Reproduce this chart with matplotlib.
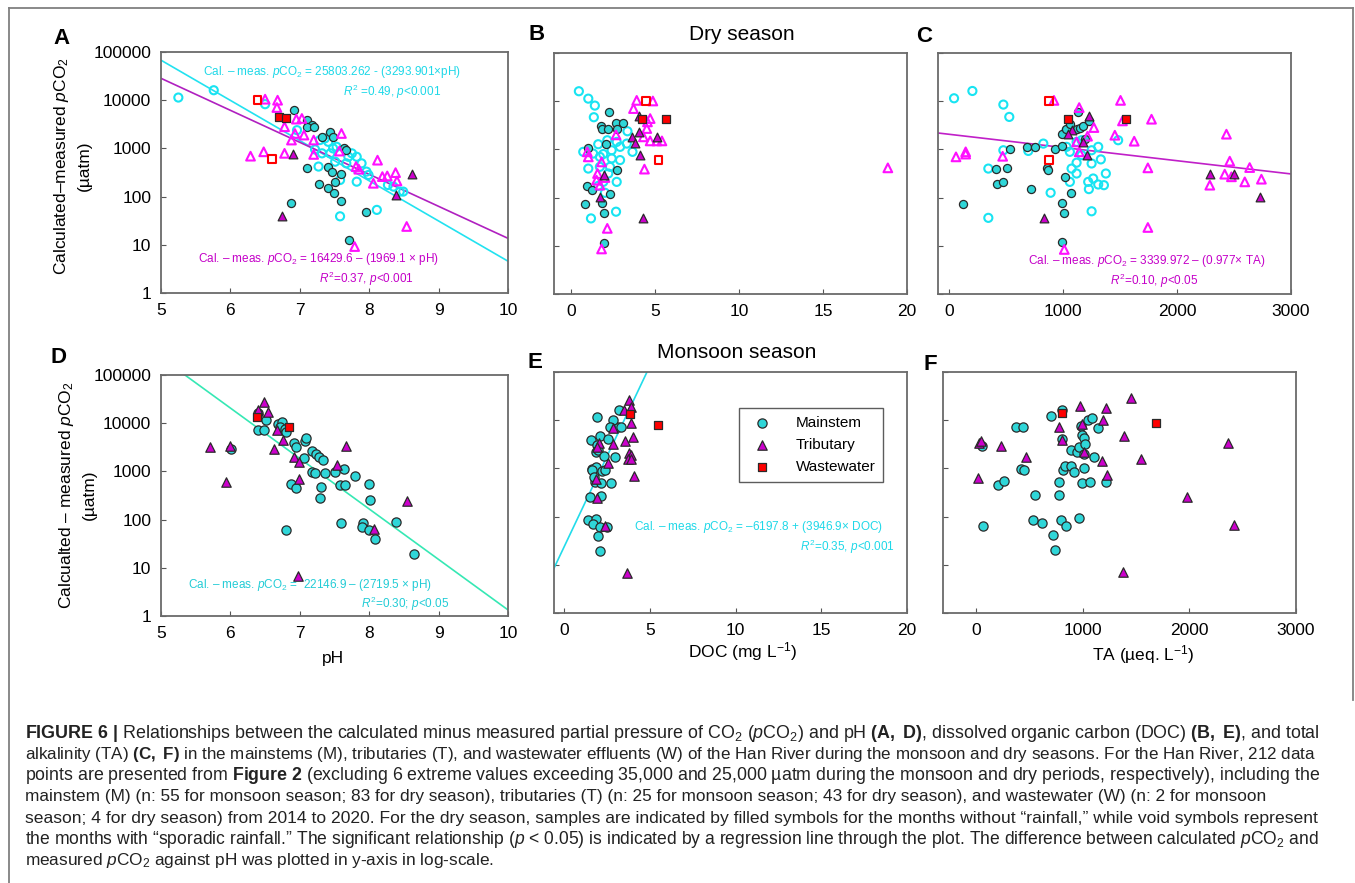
import matplotlib
matplotlib.use('Agg')
import matplotlib.pyplot as plt
import numpy as np
from matplotlib.lines import Line2D
from matplotlib.ticker import NullLocator

plt.rcParams['font.family'] = 'Liberation Sans'
plt.rcParams['mathtext.fontset'] = 'custom'
plt.rcParams['mathtext.rm'] = 'Liberation Sans'
plt.rcParams['mathtext.it'] = 'Liberation Sans:italic'
plt.rcParams['mathtext.bf'] = 'Liberation Sans:bold'

# ---------------- data (x, calculated - measured pCO2 in uatm) ----------------
# Dry season, pH (panel A)
a_main_open = [(5.25, 11350), (5.76, 16100), (6.50, 8260), (6.96, 2390), (7.22, 950), (7.29, 1490),
               (7.36, 1610), (7.41, 1370), (7.48, 1000), (7.53, 1080), (7.32, 790), (7.44, 790),
               (7.51, 530), (7.27, 420), (7.70, 670), (7.75, 790), (7.82, 670), (7.67, 490),
               (7.89, 490), (7.96, 330), (7.99, 281), (7.82, 204), (7.58, 221), (8.35, 161),
               (8.44, 127), (8.27, 174), (8.49, 127), (8.11, 53), (7.58, 39)]
a_main_fill = [(6.91, 6210), (7.10, 3860), (7.17, 3040), (7.10, 2810), (7.20, 2810), (7.44, 2210),
               (7.48, 1740), (7.32, 1740), (7.63, 1000), (7.67, 925), (7.41, 420), (7.10, 385),
               (7.46, 330), (7.60, 294), (7.51, 204), (7.27, 180), (7.41, 153), (7.50, 121),
               (7.60, 81), (6.87, 75), (7.95, 49), (7.71, 12.7)]
a_trib_open = [(6.29, 690), (6.48, 850), (6.50, 10500), (6.68, 10000), (6.67, 7050), (6.78, 2810),
               (6.78, 790), (6.88, 1490), (6.93, 2040), (6.95, 4050), (7.03, 4180), (7.06, 1890),
               (7.20, 1490), (7.20, 750), (7.60, 2040), (7.57, 880), (7.81, 420), (7.85, 370),
               (8.12, 570), (8.06, 189), (8.19, 260), (8.26, 268), (8.38, 314), (8.40, 211),
               (8.54, 24), (7.79, 9.2)]
a_trib_fill = [(6.90, 760), (6.75, 39), (8.38, 108), (8.62, 294)]
a_waste_open = [(6.39, 10200), (6.60, 610)]
a_waste_fill = [(6.70, 4380), (6.80, 4300)]

# Dry season, DOC (panel B)
b_main_open = [(0.48, 16100), (1.04, 11300), (1.43, 8110), (1.37, 4650), (3.37, 2380), (1.63, 1280),
               (2.17, 1550), (2.73, 1430), (3.33, 1320), (0.74, 890), (1.33, 820), (1.93, 800),
               (2.43, 960), (2.93, 1130), (3.67, 890), (2.43, 650), (2.93, 600), (1.04, 400),
               (1.73, 435), (2.23, 316), (2.73, 212), (1.93, 212), (1.63, 175), (2.03, 126),
               (2.69, 51), (1.20, 37), (1.73, 700), (2.33, 435)]
b_main_fill = [(2.29, 5900), (1.79, 3030), (1.83, 2710), (2.23, 2710), (2.67, 3600), (3.09, 3600),
               (2.73, 2710), (1.04, 1080), (2.77, 365), (0.94, 175), (1.29, 147), (2.33, 118),
               (0.84, 73), (1.83, 78), (1.99, 47), (1.97, 11.7), (2.09, 1320)]
b_trib_open = [(3.92, 10400), (4.88, 10100), (3.73, 7030), (4.72, 4360), (4.56, 3720), (4.52, 2710),
               (2.69, 2000), (4.32, 1820), (4.72, 1500), (5.12, 1500), (5.42, 1500), (0.98, 890),
               (1.04, 700), (1.83, 550), (4.38, 390), (1.59, 316), (2.03, 261), (1.53, 230),
               (1.73, 181), (2.17, 23), (1.83, 8.6), (18.86, 414)]
b_trib_fill = [(4.08, 4880), (3.65, 1820), (3.82, 1390), (4.08, 2310), (5.12, 1820), (4.12, 760),
               (1.73, 104), (4.28, 37), (1.97, 292)]
b_waste_open = [(4.46, 10100), (5.22, 600)]
b_waste_fill = [(4.24, 4230), (5.66, 4230)]

# Dry season, TA (panel C)
c_main_open = [(41, 11500), (202, 16300), (474, 8510), (526, 4720), (825, 1320), (693, 930), (474, 960),
               (342, 400), (889, 126), (342, 38), (1029, 2500), (1029, 1130), (1058, 890), (1117, 1430),
               (1161, 1550), (1073, 400), (1058, 212), (1117, 316), (1117, 530), (1249, 960), (1307, 1130),
               (1249, 510), (1330, 620), (1374, 316), (1263, 249), (1219, 212), (1307, 187), (1357, 181),
               (1225, 150), (1249, 52), (1482, 1550), (1161, 760)]
c_main_fill = [(123, 73), (406, 390), (503, 420), (532, 1040), (415, 196), (474, 212), (678, 1130),
               (751, 1130), (713, 150), (854, 420), (863, 371), (927, 1040), (985, 1170), (985, 2130),
               (1020, 2620), (1058, 3430), (1117, 2710), (1146, 2790), (1132, 5990), (1170, 3030),
               (1225, 3840), (1018, 270), (1067, 122), (985, 79), (1006, 48), (991, 12.1), (1190, 1680)]
c_trib_open = [(58, 700), (143, 800), (143, 890), (468, 720), (918, 10400), (1140, 7370), (1269, 2840),
               (1117, 1430), (1140, 890), (1213, 1880), (1453, 1970), (1503, 10400), (1520, 3900),
               (1623, 1480), (1775, 4230), (1743, 414), (1743, 24), (1009, 8.4), (2433, 2070), (2462, 570),
               (2418, 306), (2477, 270), (2637, 420), (2594, 212), (2740, 241), (2287, 181)]
c_trib_fill = [(1222, 4960), (1073, 2500), (1038, 2070), (1175, 1430), (1205, 760), (830, 37),
               (2287, 306), (2500, 306), (2731, 104)]
c_waste_open = [(877, 10100), (877, 600)]
c_waste_fill = [(1041, 4230), (1550, 4230)]

# Monsoon season, pH (panel D)
d_main = [(6.40, 16000), (6.52, 11600), (6.40, 7200), (6.48, 7200), (6.69, 9440), (6.75, 10700),
          (6.72, 8450), (6.79, 7440), (6.80, 6650), (6.91, 3930), (6.95, 3140), (7.08, 4260), (7.09, 4830),
          (7.06, 1860), (7.17, 2640), (7.24, 2250), (7.27, 2010), (7.33, 1710), (7.17, 950), (7.22, 910),
          (7.36, 910), (7.51, 950), (7.63, 1100), (7.79, 810), (8.00, 540), (7.58, 520), (7.65, 520),
          (7.30, 480), (6.88, 540), (6.95, 456), (7.29, 283), (8.01, 253), (7.59, 86), (7.91, 86),
          (7.89, 71), (8.00, 62), (8.08, 40), (8.39, 90), (6.80, 62), (8.65, 19.7), (6.01, 2900)]
d_trib = [(5.71, 3250), (5.93, 610), (5.99, 3400), (6.40, 18700), (6.49, 27900), (6.54, 17300),
          (6.63, 2900), (6.67, 7200), (6.76, 4460), (6.91, 2010), (6.99, 1580), (6.99, 710), (7.67, 3350),
          (7.53, 1350), (8.07, 65), (8.55, 245), (6.98, 6.7)]
d_waste = [(6.39, 13600), (6.85, 8450)]

# Monsoon season, DOC (panel E)
e_main = [(1.90, 11400), (1.55, 3860), (2.08, 4670), (2.56, 4170), (3.11, 7280), (2.82, 10300),
          (2.68, 7280), (3.30, 7280), (3.20, 16100), (2.97, 1690), (1.90, 3040), (1.84, 2210), (1.98, 2390),
          (2.29, 1830), (1.59, 950), (1.84, 1050), (1.61, 925), (2.19, 895), (2.37, 925), (1.79, 530),
          (2.14, 490), (2.72, 505), (1.51, 260), (2.14, 272), (1.36, 85), (1.84, 88), (1.65, 70),
          (2.08, 62), (2.49, 62), (1.94, 40), (2.08, 19.8), (1.71, 670)]
e_trib = [(3.79, 26800), (3.88, 18900), (3.46, 16600), (2.87, 6940), (2.87, 3140), (2.00, 3290),
          (1.90, 2720), (2.58, 1310), (1.84, 610), (1.90, 247), (2.39, 64), (3.55, 3730), (4.02, 4520),
          (3.88, 8810), (3.79, 2040), (3.88, 1890), (3.73, 1540), (3.88, 1540), (4.08, 705), (3.65, 6.7)]
e_waste = [(3.83, 13300), (5.44, 8130)]

# Monsoon season, TA (panel F)
f_main = [(60, 2960), (66, 63), (202, 460), (262, 560), (376, 7340), (439, 7340), (420, 970), (446, 940),
          (550, 285), (531, 86), (619, 72), (705, 12000), (720, 41), (736, 20), (777, 510), (777, 285),
          (799, 86), (840, 65), (809, 16300), (809, 4070), (818, 940), (831, 1140), (894, 2410), (888, 1140),
          (919, 830), (951, 2150), (961, 92), (967, 2740), (983, 7460), (992, 4930), (1008, 4270),
          (1024, 3210), (1014, 1000), (989, 500), (1008, 1990), (1046, 10100), (1087, 10900),
          (1103, 1750), (1071, 530), (1141, 6780), (1220, 530)]
f_trib = [(25, 3370), (51, 3650), (22, 630), (237, 2870), (468, 1700), (774, 7110), (809, 3880),
          (976, 20000), (998, 8340), (1014, 2150), (1188, 10100), (1182, 1400), (1220, 17900), (1229, 740),
          (1384, 4700), (1450, 28500), (1551, 1590), (1978, 259), (2360, 3370), (2420, 67), (1378, 7.0)]
f_waste = [(809, 13900), (1684, 8610)]

# regression lines: log10(y) = a + b * x
fit_a_cyan = (9.00, -0.834)
fit_a_mag = (7.774, -0.664)
fit_c_mag = (3.313, -0.000274)
fit_d = (10.596, -1.047)
fit_e = (1.38, 0.75)

decades = [1, 10, 100, 1000, 10000, 100000]
decade_labels = ['1', '10', '100', '1000', '10000', '100000']

CYAN_OPEN = '#18e4f2'
CYAN_FILL = '#2fd6d8'
MAG_OPEN = '#ff10ff'
MAG_FILL = '#cc00cc'
RED = '#ff0000'
EDGE = '#2a2a2a'

W, H = 1355, 883
fig = plt.figure(figsize=(W / 100, H / 100), dpi=100)


def px_axes(l, t, r, b):
    return fig.add_axes([l / W, 1 - b / H, (r - l) / W, (b - t) / H])


def ftext(x, y, s, **kw):
    kw.setdefault('ha', 'center')
    kw.setdefault('va', 'center')
    return fig.text(x / W, 1 - y / H, s, **kw)


def style(ax, xlim, xticks, ylabels=False):
    ax.set_yscale('log')
    ax.set_ylim(1, 1e5)
    ax.set_xlim(*xlim)
    ax.set_xticks(xticks)
    ax.set_xticklabels([str(t) for t in xticks])
    ax.set_yticks(decades)
    ax.yaxis.set_minor_locator(NullLocator())
    ax.set_yticklabels(decade_labels if ylabels else [])
    ax.tick_params(direction='in', length=3.5, width=0.8, color='#555', labelsize=12.5, pad=7)
    for s in ax.spines.values():
        s.set_color('#6a6a6a')
        s.set_linewidth(1.3)


def pts(ax, data, marker, color, filled, size=34):
    x = [p[0] for p in data]
    y = [p[1] for p in data]
    if marker == '^':
        size = size * 1.15
    if filled:
        ax.scatter(x, y, s=size, marker=marker, facecolors=color, edgecolors=EDGE,
                   linewidths=0.9, zorder=3)
    else:
        ax.scatter(x, y, s=size, marker=marker, facecolors='none', edgecolors=color,
                   linewidths=1.5, zorder=3)


def fit(ax, coef, color, xlim):
    x = np.linspace(xlim[0], xlim[1], 50)
    ax.plot(x, 10 ** (coef[0] + coef[1] * x), color=color, lw=1.2, zorder=2)


def dry_panel(ax, m_o, m_f, t_o, t_f, w_o, w_f):
    pts(ax, m_o, 'o', CYAN_OPEN, False)
    pts(ax, m_f, 'o', CYAN_FILL, True)
    pts(ax, t_o, '^', MAG_OPEN, False)
    pts(ax, t_f, '^', MAG_FILL, True)
    pts(ax, w_o, 's', RED, False, 30)
    pts(ax, w_f, 's', RED, True, 30)


def wet_panel(ax, m, t, w):
    pts(ax, m, 'o', CYAN_FILL, True, 44)
    pts(ax, t, '^', MAG_FILL, True, 40)
    pts(ax, w, 's', RED, True, 36)


# ---------------- panels ----------------
xl_ph = (5, 10)
xl_doc_b = (-1, 20)
xl_ta_c = (-100, 3000)
xl_doc_e = (-0.6, 20)
xl_ta_f = (-310, 3000)

axA = px_axes(161, 52, 508, 293)
style(axA, xl_ph, [5, 6, 7, 8, 9, 10], ylabels=True)
fit(axA, fit_a_cyan, '#22e2f0', xl_ph)
fit(axA, fit_a_mag, '#b020c0', xl_ph)
dry_panel(axA, a_main_open, a_main_fill, a_trib_open, a_trib_fill, a_waste_open, a_waste_fill)

axB = px_axes(554, 53, 907, 294)
style(axB, xl_doc_b, [0, 5, 10, 15, 20])
dry_panel(axB, b_main_open, b_main_fill, b_trib_open, b_trib_fill, b_waste_open, b_waste_fill)

axC = px_axes(938, 53, 1291, 294)
style(axC, xl_ta_c, [0, 1000, 2000, 3000])
fit(axC, fit_c_mag, '#c020c8', xl_ta_c)
dry_panel(axC, c_main_open, c_main_fill, c_trib_open, c_trib_fill, c_waste_open, c_waste_fill)

axD = px_axes(161, 375, 508, 616)
style(axD, xl_ph, [5, 6, 7, 8, 9, 10], ylabels=True)
fit(axD, fit_d, '#36e8b4', xl_ph)
wet_panel(axD, d_main, d_trib, d_waste)

axE = px_axes(554, 372, 907, 613)
style(axE, xl_doc_e, [0, 5, 10, 15, 20])
fit(axE, fit_e, '#22dcea', xl_doc_e)
wet_panel(axE, e_main, e_trib, e_waste)

axF = px_axes(943, 372, 1296, 613)
style(axF, xl_ta_f, [0, 1000, 2000, 3000])
wet_panel(axF, f_main, f_trib, f_waste)

# legend in E
hm = axE.scatter([], [], s=44, marker='o', facecolors=CYAN_FILL, edgecolors=EDGE, linewidths=0.9)
ht = axE.scatter([], [], s=46, marker='^', facecolors=MAG_FILL, edgecolors=EDGE, linewidths=0.9)
hw = axE.scatter([], [], s=36, marker='s', facecolors=RED, edgecolors=EDGE, linewidths=0.9)
leg = axE.legend([hm, ht, hw], ['Mainstem', 'Tributary', 'Wastewater'], loc='upper left',
                 bbox_to_anchor=(0.524, 0.851), fontsize=11, frameon=True, fancybox=False,
                 handletextpad=1.2, labelspacing=0.55, borderpad=0.5, borderaxespad=0)
leg.get_frame().set_edgecolor('#333333')
leg.get_frame().set_linewidth(1.0)

# panel letters and titles
for lab, x, y in [('A', 62, 39), ('B', 537, 35), ('C', 924, 37),
                  ('D', 58, 358), ('E', 535, 362), ('F', 930, 364)]:
    ftext(x, y, lab, fontsize=16, fontweight='bold')
ftext(742, 35, 'Dry season', fontsize=15)
ftext(737, 352, 'Monsoon season', fontsize=15)

# axis labels
ftext(72, 166, 'Calculated–measured $\\mathit{p}$CO$_2$\n(µatm)', fontsize=12.5,
      rotation=90, linespacing=1.5)
ftext(77, 495, 'Calcualted – measured $\\mathit{p}$CO$_2$\n(µatm)', fontsize=12.5,
      rotation=90, linespacing=1.5)
ftext(333, 658, 'pH', fontsize=12.5)
ftext(743, 652, 'DOC (mg L$^{-1}$)', fontsize=12.5)
ftext(1143, 655, 'TA (µeq. L$^{-1}$)', fontsize=12.5)

# regression equations
TC = '#1ed8e8'
TM = '#c400c8'
ftext(332, 72, 'Cal. – meas. $\\mathit{p}$CO$_2$ = 25803.262 - (3293.901×pH)', fontsize=8.5, color=TC)
ftext(392, 92, '$\\mathit{R}^2$ =0.49, $\\mathit{p}$<0.001', fontsize=8.5, color=TC)
ftext(318, 259, 'Cal. – meas. $\\mathit{p}$CO$_2$ = 16429.6 – (1969.1 × pH)', fontsize=8.5, color=TM)
ftext(366, 279, '$\\mathit{R}^2$=0.37, $\\mathit{p}$<0.001', fontsize=8.5, color=TM)
ftext(1147, 261, 'Cal. – meas. $\\mathit{p}$CO$_2$ = 3339.972 – (0.977× TA)', fontsize=8.5, color=TM)
ftext(1154, 281, '$\\mathit{R}^2$=0.10, $\\mathit{p}$<0.05', fontsize=8.5, color=TM)
ftext(310, 585, 'Cal. – meas. $\\mathit{p}$CO$_2$ =  22146.9 – (2719.5 × pH)', fontsize=8.5, color='#22ccd6')
ftext(405, 604, '$\\mathit{R}^2$=0.30; $\\mathit{p}$<0.05', fontsize=8.5, color='#22ccd6')
ftext(758, 527, 'Cal. – meas. $\\mathit{p}$CO$_2$ = –6197.8 + (3946.9× DOC)', fontsize=8.5, color=TC)
ftext(847, 547, '$\\mathit{R}^2$=0.35, $\\mathit{p}$<0.001', fontsize=8.5, color=TC)

# outer frame of the figure area
fc = '#808080'
fig.add_artist(Line2D([9 / W, 1353 / W], [1 - 8 / H, 1 - 8 / H], transform=fig.transFigure, color=fc, lw=1.3))
fig.add_artist(Line2D([9 / W, 9 / W], [0, 1 - 8 / H], transform=fig.transFigure, color=fc, lw=1.3))
fig.add_artist(Line2D([1353 / W, 1353 / W], [1 - 700 / H, 1 - 8 / H], transform=fig.transFigure, color=fc, lw=1.3))

# caption (justified lines fitted to the text block width, others left ragged)
caption = [
    r"$\mathbf{FIGURE\ 6\ |}$ Relationships between the calculated minus measured partial pressure of CO$_2$ ($\mathit{p}$CO$_2$) and pH $\mathbf{(A,}$ $\mathbf{D)}$, dissolved organic carbon (DOC) $\mathbf{(B,}$ $\mathbf{E)}$, and total",
    r"alkalinity (TA) $\mathbf{(C,}$ $\mathbf{F)}$ in the mainstems (M), tributaries (T), and wastewater effluents (W) of the Han River during the monsoon and dry seasons. For the Han River, 212 data",
    r"points are presented from $\mathbf{Figure\ 2}$ (excluding 6 extreme values exceeding 35,000 and 25,000 µatm during the monsoon and dry periods, respectively), including the",
    "mainstem (M) (n: 55 for monsoon season; 83 for dry season), tributaries (T) (n: 25 for monsoon season; 43 for dry season), and wastewater (W) (n: 2 for monsoon",
    "season; 4 for dry season) from 2014 to 2020. For the dry season, samples are indicated by filled symbols for the months without “rainfall,” while void symbols represent",
    r"the months with “sporadic rainfall.” The significant relationship ($\mathit{p}$ < 0.05) is indicated by a regression line through the plot. The difference between calculated $\mathit{p}$CO$_2$ and",
    r"measured $\mathit{p}$CO$_2$ against pH was plotted in y-axis in log-scale.",
]
caption_justified = [True, True, True, False, True, True, False]
block_width = 1297
base_size = 12.4
renderer = fig.canvas.get_renderer()
for i, line in enumerate(caption):
    t = ftext(25, 733 + 21.3 * i, line, fontsize=base_size, ha='left', color='#222222')
    w = t.get_window_extent(renderer).width
    if caption_justified[i] or w > block_width:
        t.set_fontsize(min(13.2, base_size * block_width / w))

fig.savefig('out.png', dpi=100)
